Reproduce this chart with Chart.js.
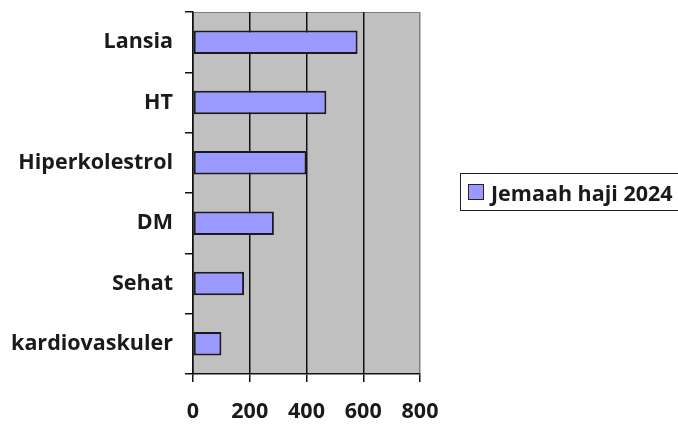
<!DOCTYPE html>
<html>
<head>
<meta charset="utf-8">
<script src="https://cdn.jsdelivr.net/npm/chart.js@4/dist/chart.umd.min.js"></script>
<style>
  html, body { margin: 0; padding: 0; background: #fff; overflow: hidden; }
  #wrap { position: relative; width: 678px; height: 424px; overflow: hidden; }
  #legend {
    position: absolute; left: 460px; top: 173px; height: 38px; width: 240px;
    border: 1.5px solid #222; box-sizing: border-box;
    font: bold 21.5px "Open Sans", sans-serif; color: #1a1a1a;
    display: flex; align-items: center; padding-left: 7px; white-space: nowrap;
  }
  #legend .sw { width: 14px; height: 14px; background: #9999ff; border: 1.5px solid #222; margin-right: 7px; flex: none; }
</style>
</head>
<body>
<div id="wrap">
  <canvas id="chart" width="678" height="424"></canvas>
  <div id="legend"><span class="sw"></span><span id="legendText"></span></div>
</div>
<script>
const categories = ["Lansia", "HT", "Hiperkolestrol", "DM", "Sehat", "kardiovaskuler"];
const seriesName = "Jemaah haji 2024";
const values = [580, 470, 400, 285, 180, 100];
const xTicks = [0, 200, 400, 600, 800];

document.getElementById("legendText").textContent = seriesName;

// grey plot background
const plotBg = {
  id: "plotBg",
  beforeDraw(chart) {
    const { ctx, chartArea: a } = chart;
    ctx.save();
    ctx.fillStyle = "#c0c0c0";
    ctx.fillRect(a.left, a.top, a.right - a.left, a.bottom - a.top);
    ctx.strokeStyle = "#808080";
    ctx.lineWidth = 1;
    ctx.beginPath();
    ctx.moveTo(a.left, a.top + 0.5);
    ctx.lineTo(a.right - 0.5, a.top + 0.5);
    ctx.lineTo(a.right - 0.5, a.bottom);
    ctx.stroke();
    ctx.restore();
  },
};

const tickFont = { family: "Open Sans", size: 21.5, weight: "bold" };

const ctx = document.getElementById("chart").getContext("2d");
new Chart(ctx, {
  type: "bar",
  data: {
    labels: categories,
    datasets: [
      {
        label: seriesName,
        data: values,
        backgroundColor: "#9999ff",
        borderColor: "#1a1a1a",
        borderWidth: 2,
        borderSkipped: false,
        barPercentage: 0.39,
        categoryPercentage: 1,
      },
    ],
  },
  options: {
    indexAxis: "y",
    responsive: false,
    animation: false,
    layout: { padding: { top: 12, right: 258, bottom: 0, left: 0 } },
    scales: {
      x: {
        min: 0,
        max: 800,
        afterBuildTicks: (scale) => {
          scale.ticks = xTicks.map((v) => ({ value: v }));
        },
        afterFit: (scale) => { scale.height = 50; },
        grid: {
          color: (c) => (c.tick && c.tick.value === 800 ? "#808080" : "#111"),
          lineWidth: 1.5,
          tickLength: 8,
          tickColor: "#111",
        },
        border: { color: "#111", width: 1.5 },
        ticks: { color: "#1a1a1a", padding: 17, font: tickFont },
      },
      y: {
        afterFit: (scale) => {
          scale.width = 193;
          scale.paddingTop = 0;
          scale.paddingBottom = 0;
        },
        grid: { offset: true, drawOnChartArea: false, tickLength: 8, color: "#111", lineWidth: 1.5 },
        border: { color: "#111", width: 1.5 },
        ticks: { color: "#1a1a1a", padding: 12, font: tickFont },
      },
    },
    plugins: {
      legend: { display: false },
      tooltip: { enabled: false },
    },
  },
  plugins: [plotBg],
});
</script>
</body>
</html>
